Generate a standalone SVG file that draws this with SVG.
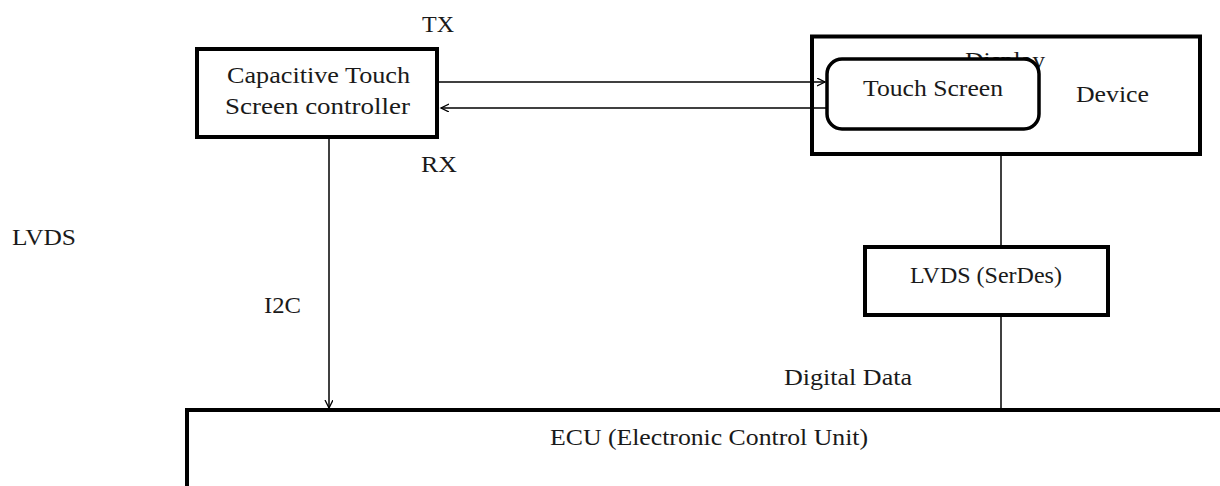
<svg xmlns="http://www.w3.org/2000/svg" width="1220" height="486" viewBox="0 0 1220 486">
<style>
text{font-family:"Liberation Serif","Times New Roman",serif;font-size:24px;fill:#1a1a1a}
.box{fill:#fff;stroke:#000;stroke-width:4}
.ln{stroke:#000;stroke-width:1.5;fill:none}
</style>
<defs>
<marker id="ah" markerUnits="userSpaceOnUse" markerWidth="10" markerHeight="10" refX="8" refY="4" orient="auto">
<path d="M0,0 L8,4 L0,8" fill="none" stroke="#000" stroke-width="1.3"/>
</marker>
</defs>
<rect width="1220" height="486" fill="#fff"/>
<g id="labels">
<text x="422" y="32" textLength="32" lengthAdjust="spacingAndGlyphs">TX</text>
<text x="421" y="172" textLength="36" lengthAdjust="spacingAndGlyphs">RX</text>
<text x="12" y="245" textLength="64" lengthAdjust="spacingAndGlyphs">LVDS</text>
<text x="264" y="313" textLength="37" lengthAdjust="spacingAndGlyphs">I2C</text>
<text x="784" y="385" textLength="128" lengthAdjust="spacingAndGlyphs">Digital Data</text>
</g>
<g id="controller">
<rect class="box" x="197" y="49" width="240" height="88"/>
<text x="227" y="83" textLength="183" lengthAdjust="spacingAndGlyphs">Capacitive Touch</text>
<text x="225" y="114" textLength="185" lengthAdjust="spacingAndGlyphs">Screen controller</text>
</g>
<g id="display">
<rect class="box" x="812" y="36.5" width="388" height="117.5"/>
<text x="965" y="68" textLength="80" lengthAdjust="spacingAndGlyphs">Display</text>
<text x="1076" y="102" textLength="73" lengthAdjust="spacingAndGlyphs">Device</text>
</g>
<g id="touchscreen">
<rect x="827" y="59" width="212" height="70" rx="15" fill="#fff" stroke="#000" stroke-width="3.5"/>
<text x="863" y="96" textLength="140" lengthAdjust="spacingAndGlyphs">Touch Screen</text>
</g>
<g id="lvds">
<rect class="box" x="865" y="247" width="243" height="68"/>
<text x="986" y="283" text-anchor="middle">LVDS (SerDes)</text>
</g>
<g id="ecu">
<rect class="box" x="187" y="410" width="1040" height="90"/>
<text x="709" y="445" text-anchor="middle" textLength="318" lengthAdjust="spacingAndGlyphs">ECU (Electronic Control Unit)</text>
</g>
<g id="connectors">
<line class="ln" x1="439" y1="82" x2="825" y2="82" marker-end="url(#ah)"/>
<line class="ln" x1="826" y1="108" x2="441" y2="108" marker-end="url(#ah)"/>
<line class="ln" x1="329" y1="139" x2="329" y2="408" marker-end="url(#ah)"/>
<line class="ln" x1="1001" y1="156" x2="1001" y2="245"/>
<line class="ln" x1="1001" y1="317" x2="1001" y2="408"/>
</g>
</svg>
